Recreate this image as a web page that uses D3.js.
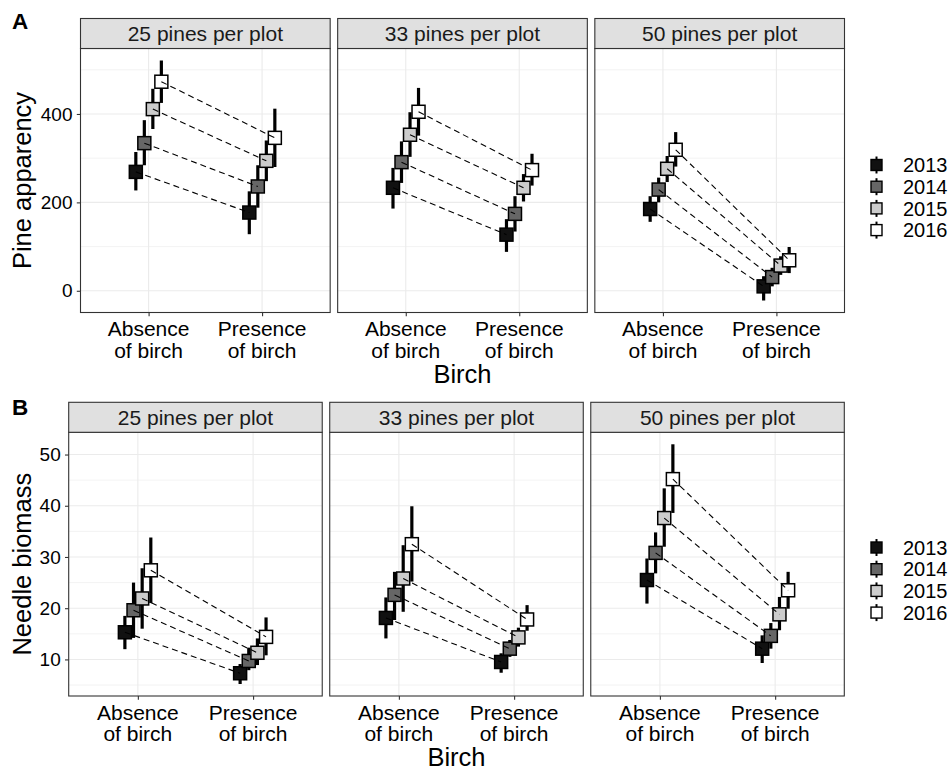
<!DOCTYPE html>
<html>
<head>
<meta charset="utf-8">
<script src="https://cdn.jsdelivr.net/npm/d3@7/dist/d3.min.js"></script>
<style>
  html, body { margin: 0; padding: 0; background: #ffffff; }
  svg { display: block; font-family: "Liberation Sans", Arial, Helvetica, sans-serif; }
</style>
</head>
<body>
<svg id="chart" width="951" height="771"></svg>
<script>
// ---- data -------------------------------------------------------------
const years = ["2013", "2014", "2015", "2016"];
const yearFills = ["#111111", "#666666", "#cccccc", "#ffffff"];
const birchLevels = ["Absence of birch", "Presence of birch"];
const birchTickLabels = [["Absence", "of birch"], ["Presence", "of birch"]];
const densities = ["25 pines per plot", "33 pines per plot", "50 pines per plot"];

// Pine apparency: [density][birch][year]
const apparencyMean = [
  [[269, 334, 411, 473], [177, 236, 294, 346]],
  [[233, 291, 353, 405], [127, 174, 233, 273]],
  [[185, 229, 276, 319], [10, 31, 57, 69]]
];
const apparencyLow = [
  [[227, 284, 366, 425], [128, 188, 248, 280]],
  [[186, 244, 303, 351], [88, 134, 202, 238]],
  [[156, 200, 246, 281], [-22, 10, 36, 40]]
];
const apparencyHigh = [
  [[314, 386, 457, 521], [225, 284, 340, 412]],
  [[278, 338, 404, 459], [162, 214, 264, 310]],
  [[214, 256, 305, 359], [33, 52, 78, 99]]
];
const apparencyTicks = [0, 200, 400];

// Needle biomass: [density][birch][year]
const biomassMean = [
  [[15.3, 19.6, 21.9, 27.4], [7.3, 9.7, 11.3, 14.4]],
  [[18.1, 22.6, 25.8, 32.5], [9.5, 12.1, 14.3, 17.8]],
  [[25.5, 30.8, 37.6, 45.2], [12.1, 14.6, 18.8, 23.5]]
];
const biomassLow = [
  [[12.0, 14.2, 16.0, 21.0], [5.2, 7.9, 8.9, 10.8]],
  [[14.1, 17.7, 19.3, 25.2], [7.4, 10.5, 12.5, 15.6]],
  [[20.9, 26.8, 32.0, 38.6], [9.3, 12.1, 15.7, 19.9]]
];
const biomassHigh = [
  [[18.5, 25.0, 27.8, 33.8], [9.1, 12.3, 14.1, 18.2]],
  [[22.1, 27.1, 32.3, 39.9], [11.2, 13.8, 16.2, 20.6]],
  [[29.7, 34.8, 43.4, 52.0], [14.7, 17.1, 22.2, 27.1]]
];
const biomassTicks = [10, 20, 30, 40, 50];

// ---- layout ---------------------------------------------------------------
const svg = d3.select("#chart");
const FONT_TICK_Y = 19, FONT_TICK_X = 21, FONT_STRIP = 21, FONT_TITLE = 25.5, FONT_LEGEND = 20;
const STRIP_H = 30, FACET_GAP = 7.5;
const BORDER = "#333333", GRID = "#ebebeb";

const panels = [
  { tag: "A", tagBaseline: 29.3, title: "Pine apparency",
    mean: apparencyMean, low: apparencyLow, high: apparencyHigh, ticks: apparencyTicks,
    stripTop: 18.5, left: 80.5, right: 844.5, bottom: 312.5, legendTop: 165 },
  { tag: "B", tagBaseline: 415, title: "Needle biomass",
    mean: biomassMean, low: biomassLow, high: biomassHigh, ticks: biomassTicks,
    stripTop: 402.3, left: 68.7, right: 844.3, bottom: 696, legendTop: 547.5 }
];

panels.forEach(p => {
  const g = svg.append("g");
  const plotTop = p.stripTop + STRIP_H;
  const facetW = (p.right - p.left - 2 * FACET_GAP) / 3;

  // y scale with 5% expansion around the error-bar range
  const lo = d3.min(p.low.flat(2)), hi = d3.max(p.high.flat(2));
  const pad = (hi - lo) * 0.05;
  const y = d3.scaleLinear().domain([lo - pad, hi + pad]).range([p.bottom, plotTop]);
  const step = p.ticks[1] - p.ticks[0];
  const minor = p.ticks.map(t => t - step / 2).concat([p.ticks[p.ticks.length - 1] + step / 2])
    .filter(v => v >= y.domain()[0] && v <= y.domain()[1]);

  // panel tag
  g.append("text").attr("x", 12).attr("y", p.tagBaseline)
    .attr("font-size", 22.5).attr("font-weight", "bold").text(p.tag);

  // y axis title
  g.append("text")
    .attr("transform", `translate(30.5,${(plotTop + p.bottom) / 2}) rotate(-90)`)
    .attr("text-anchor", "middle").attr("font-size", FONT_TITLE).attr("fill", "#000")
    .text(p.title);

  // x axis title
  g.append("text").attr("x", (p.left + p.right) / 2).attr("y", p.bottom + 70)
    .attr("text-anchor", "middle").attr("font-size", FONT_TITLE).text("Birch");

  densities.forEach((dens, fi) => {
    const fx = p.left + fi * (facetW + FACET_GAP);
    const x = d3.scalePoint().domain(birchLevels).range([fx, fx + facetW]).padding(0.6);
    const dodge = x.step() * 0.3 / years.length;
    const xPos = (bi, yi) => x(birchLevels[bi]) + (yi - (years.length - 1) / 2) * dodge;
    const fg = g.append("g");

    // background + grid
    fg.append("rect").attr("x", fx).attr("y", plotTop).attr("width", facetW)
      .attr("height", p.bottom - plotTop).attr("fill", "#fff");
    fg.selectAll(".minor").data(minor).join("line")
      .attr("x1", fx).attr("x2", fx + facetW).attr("y1", d => y(d)).attr("y2", d => y(d))
      .attr("stroke", GRID).attr("stroke-width", 0.6);
    fg.selectAll(".major").data(p.ticks).join("line")
      .attr("x1", fx).attr("x2", fx + facetW).attr("y1", d => y(d)).attr("y2", d => y(d))
      .attr("stroke", GRID).attr("stroke-width", 1.1);
    fg.selectAll(".vgrid").data(birchLevels).join("line")
      .attr("x1", d => x(d)).attr("x2", d => x(d)).attr("y1", plotTop).attr("y2", p.bottom)
      .attr("stroke", GRID).attr("stroke-width", 1.1);

    // records for this facet
    const recs = [];
    birchLevels.forEach((b, bi) => years.forEach((yr, yi) => recs.push({
      bi, yi, cx: xPos(bi, yi),
      m: p.mean[fi][bi][yi], l: p.low[fi][bi][yi], h: p.high[fi][bi][yi]
    })));

    // error bars
    fg.selectAll(".err").data(recs).join("line")
      .attr("x1", d => d.cx).attr("x2", d => d.cx)
      .attr("y1", d => y(d.l)).attr("y2", d => y(d.h))
      .attr("stroke", "#000").attr("stroke-width", 3.2);

    // points
    const S = 13;
    fg.selectAll(".pt").data(recs).join("rect")
      .attr("x", d => d.cx - S / 2).attr("y", d => y(d.m) - S / 2)
      .attr("width", S).attr("height", S)
      .attr("fill", d => yearFills[d.yi]).attr("stroke", "#000").attr("stroke-width", 1.5);

    // dashed lines joining absence and presence within a year
    years.forEach((yr, yi) => {
      const pts = [0, 1].map(bi => [xPos(bi, yi), y(p.mean[fi][bi][yi])]);
      fg.append("path").attr("d", d3.line()(pts))
        .attr("fill", "none").attr("stroke", "#000").attr("stroke-width", 1.1)
        .attr("stroke-dasharray", "6,4");
    });

    // border
    fg.append("rect").attr("x", fx).attr("y", plotTop).attr("width", facetW)
      .attr("height", p.bottom - plotTop).attr("fill", "none")
      .attr("stroke", BORDER).attr("stroke-width", 1.1);

    // strip
    fg.append("rect").attr("x", fx).attr("y", p.stripTop).attr("width", facetW)
      .attr("height", STRIP_H).attr("fill", "#e0e0e0")
      .attr("stroke", BORDER).attr("stroke-width", 1.1);
    fg.append("text").attr("x", fx + facetW / 2).attr("y", p.stripTop + 22.5)
      .attr("text-anchor", "middle").attr("font-size", FONT_STRIP).attr("fill", "#1a1a1a")
      .text(dens);

    // x axis
    const xa = fg.append("g").attr("transform", `translate(0,${p.bottom})`)
      .call(d3.axisBottom(x).tickSize(3.7).tickFormat(() => ""));
    xa.select(".domain").remove();
    xa.selectAll(".tick line").attr("stroke", BORDER).attr("stroke-width", 1.1);
    xa.selectAll(".tick text").remove();
    birchLevels.forEach((b, bi) => {
      const t = fg.append("text").attr("text-anchor", "middle")
        .attr("font-size", FONT_TICK_X).attr("fill", "#000");
      birchTickLabels[bi].forEach((ln, li) => {
        t.append("tspan").attr("x", x(b)).attr("y", p.bottom + 23.5 + li * 21.7).text(ln);
      });
    });

    // y axis on the first facet only
    if (fi === 0) {
      const ya = fg.append("g").attr("transform", `translate(${fx},0)`)
        .call(d3.axisLeft(y).tickValues(p.ticks).tickSize(3.7).tickPadding(4.3));
      ya.select(".domain").remove();
      ya.selectAll(".tick line").attr("stroke", BORDER).attr("stroke-width", 1.1);
      ya.selectAll(".tick text").attr("font-size", FONT_TICK_Y).attr("fill", "#000")
        .attr("font-family", "Liberation Sans, Arial, sans-serif");
    }
  });

  // legend
  const lg = g.append("g");
  years.forEach((yr, yi) => {
    const cy = p.legendTop + yi * 21.7;
    lg.append("line").attr("x1", 876.5).attr("x2", 876.5).attr("y1", cy - 8.5).attr("y2", cy + 8.5)
      .attr("stroke", "#000").attr("stroke-width", 2);
    lg.append("rect").attr("x", 876.5 - 5.5).attr("y", cy - 5.5).attr("width", 11).attr("height", 11)
      .attr("fill", yearFills[yi]).attr("stroke", "#000").attr("stroke-width", 1.4);
    lg.append("text").attr("x", 903).attr("y", cy).attr("dy", "0.36em")
      .attr("font-size", FONT_LEGEND).attr("fill", "#000").text(yr);
  });
});
</script>
</body>
</html>
